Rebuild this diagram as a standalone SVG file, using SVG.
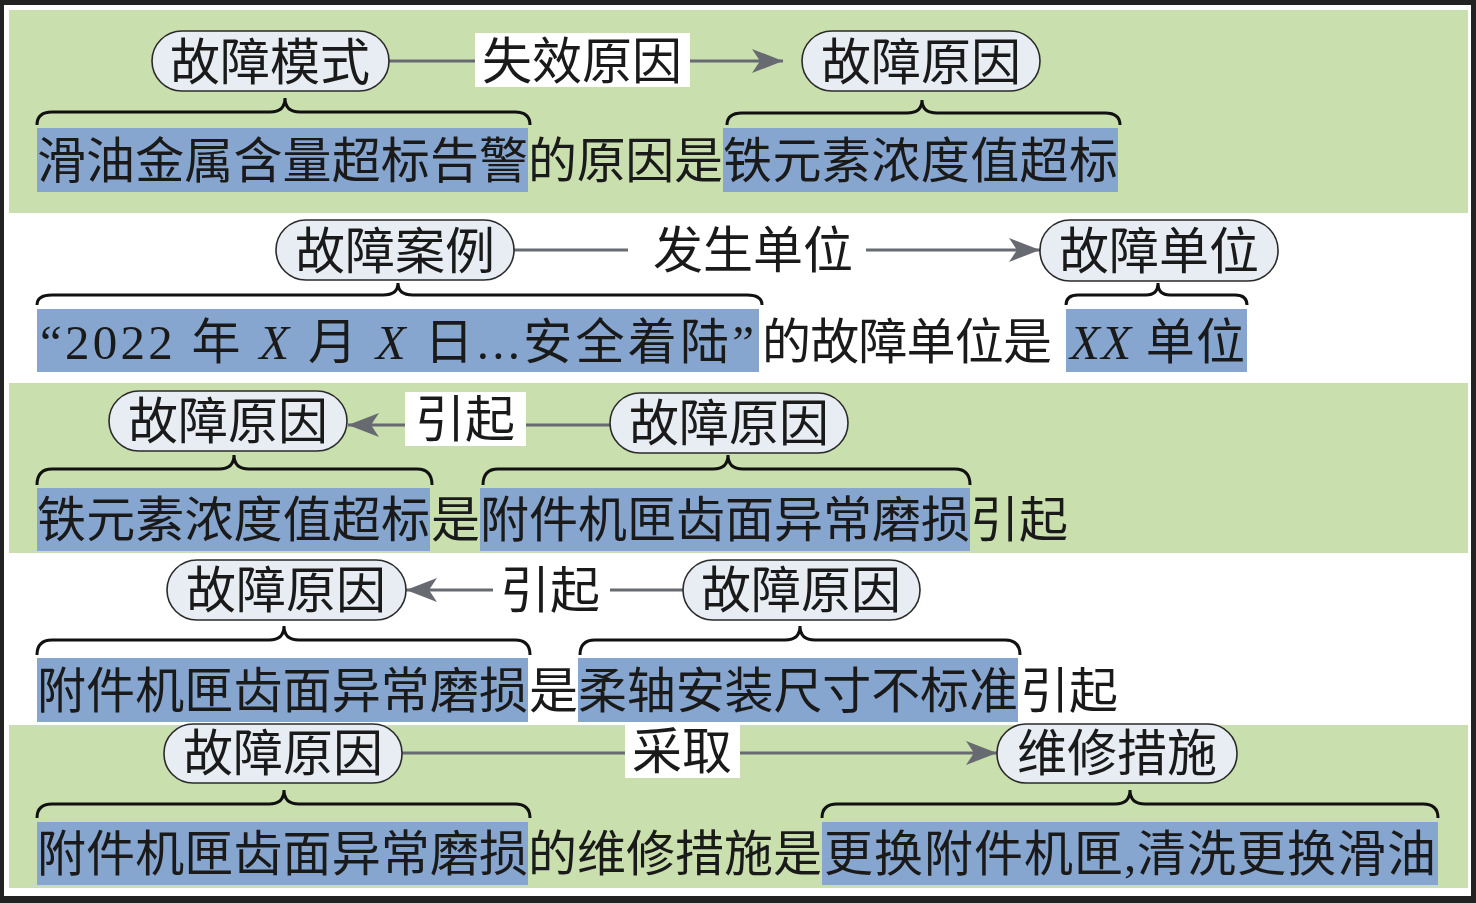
<svg xmlns="http://www.w3.org/2000/svg" width="1476" height="903" viewBox="0 0 1476 903">
<style>
.band{fill:#c9dfad}
.hl{fill:#86a6cf}
.node rect{fill:#e8edf4;stroke:#2a2a2a;stroke-width:1.6}
.t{font-family:"Liberation Serif","Noto Sans CJK SC",serif;font-size:49px;fill:#1a1a1a}
.nt{font-family:"Liberation Serif","Noto Sans CJK SC",serif;font-size:50px;fill:#1a1a1a;text-anchor:middle}
.lbg{fill:#ffffff}
.ln{stroke:#676a70;stroke-width:3;fill:none}
.br{stroke:#111;stroke-width:3;fill:none}
.it{font-style:italic}
</style>
<defs>
<marker id="ah" markerUnits="userSpaceOnUse" markerWidth="34" markerHeight="26" refX="31" refY="12" orient="auto">
<path d="M0,0 L31,12 L0,24 L8,12 z" fill="#676a70"/>
</marker>
</defs>
<rect x="0" y="0" width="1476" height="903" fill="#222"/>
<rect x="4" y="5" width="1467" height="891" fill="#fff"/>
<rect class="band" x="9" y="10" width="1459" height="203"/>
<rect class="band" x="9" y="383" width="1459" height="170"/>
<rect class="band" x="9" y="725" width="1459" height="163"/>

<g id="sentences">
<rect class="hl" x="37" y="128" width="491" height="64"/>
<rect class="hl" x="723" y="128" width="395" height="64"/>
<text class="t" x="37" y="178" textLength="491">滑油金属含量超标告警</text>
<text class="t" x="528" y="178" textLength="195">的原因是</text>
<text class="t" x="723" y="178" textLength="395">铁元素浓度值超标</text>

<rect class="hl" x="37" y="309" width="722" height="63"/>
<rect class="hl" x="1066" y="309" width="181" height="63"/>
<text class="t" x="40" y="359" textLength="714">“2022 年 <tspan class="it">X</tspan> 月 <tspan class="it">X</tspan> 日...安全着陆”</text>
<text class="t" x="762" y="359" textLength="290">的故障单位是</text>
<text class="t" x="1070" y="359" textLength="175"><tspan class="it">XX</tspan> 单位</text>

<rect class="hl" x="37" y="488" width="393" height="63"/>
<rect class="hl" x="480" y="488" width="490" height="63"/>
<text class="t" x="37" y="537" textLength="393">铁元素浓度值超标</text>
<text class="t" x="431" y="537">是</text>
<text class="t" x="480" y="537" textLength="490">附件机匣齿面异常磨损</text>
<text class="t" x="970" y="537" textLength="98">引起</text>

<rect class="hl" x="37" y="658" width="491" height="64"/>
<rect class="hl" x="578" y="658" width="440" height="64"/>
<text class="t" x="37" y="708" textLength="491">附件机匣齿面异常磨损</text>
<text class="t" x="529" y="708">是</text>
<text class="t" x="578" y="708" textLength="440">柔轴安装尺寸不标准</text>
<text class="t" x="1020" y="708" textLength="98">引起</text>

<rect class="hl" x="37" y="822" width="491" height="63"/>
<rect class="hl" x="822" y="822" width="616" height="63"/>
<text class="t" x="37" y="871" textLength="491">附件机匣齿面异常磨损</text>
<text class="t" x="528" y="871" textLength="294">的维修措施是</text>
<text class="t" x="824" y="871" textLength="612">更换附件机匣,清洗更换滑油</text>
</g>

<g id="braces">
<path class="br" d="M37,125 Q37,112 52,112 L270,112 Q285,112 285,98 Q285,112 300,112 L515,112 Q530,112 530,125"/>
<path class="br" d="M727,125 Q727,113 742,113 L907,113 Q922,113 922,100 Q922,113 937,113 L1105,113 Q1120,113 1120,125"/>
<path class="br" d="M37,305 Q37,295 52,295 L383,295 Q398,295 398,283 Q398,295 413,295 L747,295 Q762,295 762,305"/>
<path class="br" d="M1066,305 Q1066,295 1078,295 L1146,295 Q1158,295 1158,283 Q1158,295 1170,295 L1235,295 Q1247,295 1247,305"/>
<path class="br" d="M37,485 Q37,469 52,469 L219,469 Q234,469 234,455 Q234,469 249,469 L417,469 Q432,469 432,485"/>
<path class="br" d="M483,485 Q483,469 498,469 L713,469 Q728,469 728,455 Q728,469 743,469 L955,469 Q970,469 970,485"/>
<path class="br" d="M37,655 Q37,640 52,640 L269,640 Q284,640 284,626 Q284,640 299,640 L515,640 Q530,640 530,655"/>
<path class="br" d="M580,655 Q580,640 595,640 L785,640 Q800,640 800,626 Q800,640 815,640 L1005,640 Q1020,640 1020,655"/>
<path class="br" d="M37,818 Q37,804 52,804 L269,804 Q284,804 284,790 Q284,804 299,804 L515,804 Q530,804 530,818"/>
<path class="br" d="M822,818 Q822,804 837,804 L1115,804 Q1130,804 1130,790 Q1130,804 1145,804 L1423,804 Q1438,804 1438,818"/>
</g>

<g id="connectors">
<path class="ln" d="M389,61 L475,61"/>
<path class="ln" d="M690,61 L783,61" marker-end="url(#ah)"/>
<path class="ln" d="M514,250 L628,250"/>
<path class="ln" d="M866,250 L1040,250" marker-end="url(#ah)"/>
<path class="ln" d="M405,425 L348,425" marker-end="url(#ah)"/>
<path class="ln" d="M526,425 L610,425"/>
<path class="ln" d="M493,590 L406,590" marker-end="url(#ah)"/>
<path class="ln" d="M610,590 L683,590"/>
<path class="ln" d="M402,753 L625,753"/>
<path class="ln" d="M740,753 L997,753" marker-end="url(#ah)"/>
</g>

<g id="labels">
<rect class="lbg" x="475" y="33" width="215" height="54"/>
<text class="nt" x="582" y="79">失效原因</text>
<text class="nt" x="753" y="268">发生单位</text>
<rect class="lbg" x="405" y="392" width="121" height="54"/>
<text class="nt" x="465" y="437">引起</text>
<text class="nt" x="550" y="608">引起</text>
<rect class="lbg" x="625" y="723" width="115" height="55"/>
<text class="nt" x="682" y="769">采取</text>
</g>

<g id="n1" class="node"><rect x="152" y="31" width="237" height="60" rx="30"/><text class="nt" x="270" y="80">故障模式</text></g>
<g id="n2" class="node"><rect x="802" y="31" width="238" height="60" rx="30"/><text class="nt" x="921" y="80">故障原因</text></g>
<g id="n3" class="node"><rect x="276" y="220" width="238" height="60" rx="30"/><text class="nt" x="395" y="269">故障案例</text></g>
<g id="n4" class="node"><rect x="1040" y="220" width="238" height="61" rx="30"/><text class="nt" x="1159" y="269">故障单位</text></g>
<g id="n5" class="node"><rect x="109" y="391" width="238" height="60" rx="30"/><text class="nt" x="228" y="439">故障原因</text></g>
<g id="n6" class="node"><rect x="610" y="393" width="238" height="60" rx="30"/><text class="nt" x="729" y="441">故障原因</text></g>
<g id="n7" class="node"><rect x="167" y="560" width="239" height="60" rx="30"/><text class="nt" x="286" y="608">故障原因</text></g>
<g id="n8" class="node"><rect x="683" y="560" width="237" height="60" rx="30"/><text class="nt" x="801" y="608">故障原因</text></g>
<g id="n9" class="node"><rect x="164" y="724" width="238" height="59" rx="29"/><text class="nt" x="283" y="771">故障原因</text></g>
<g id="n10" class="node"><rect x="997" y="724" width="240" height="59" rx="29"/><text class="nt" x="1117" y="771">维修措施</text></g>
</svg>
